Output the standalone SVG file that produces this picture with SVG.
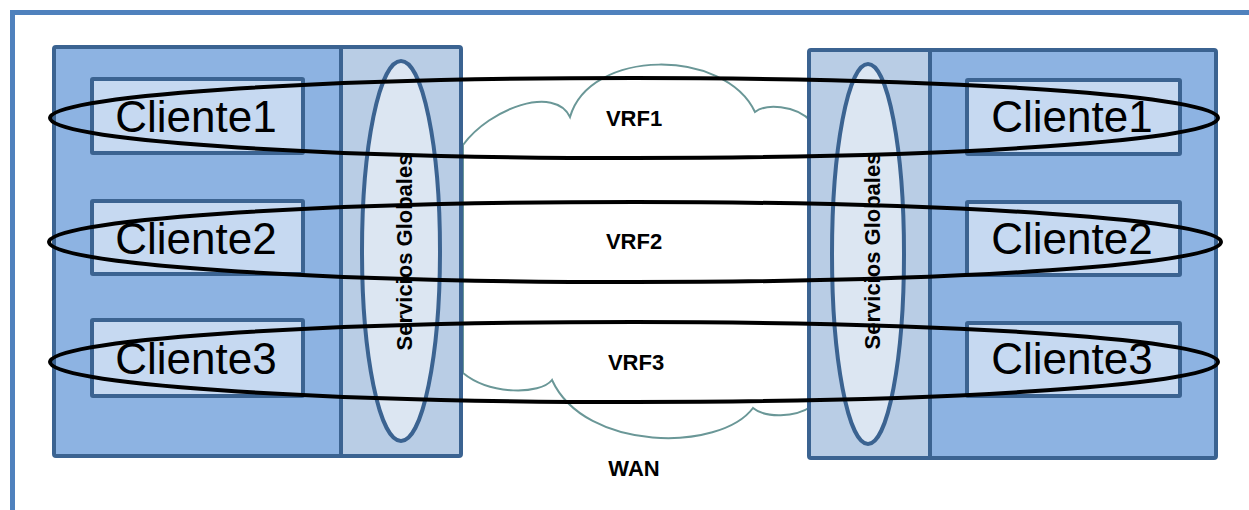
<svg xmlns="http://www.w3.org/2000/svg" width="1249" height="510" viewBox="0 0 1249 510">
<style>
.frame{fill:none;stroke:#4F81BD;stroke-width:5}
.site{stroke:#3B6391;stroke-width:4}
.dark{fill:#8DB3E2}
.light{fill:#B9CDE5}
.client{fill:#C6D9F1;stroke:#3B6391;stroke-width:4}
.svc{fill:#DCE6F2;stroke:#3B6391;stroke-width:4}
.cloud{fill:#FFFFFF;stroke:#6A9797;stroke-width:2}
.vrf{fill:none;stroke:#000000;stroke-width:4}
.ct{font-family:"Liberation Sans",Arial,sans-serif;font-size:44px;fill:#000;text-anchor:middle}
.lbl{font-family:"Liberation Sans",Arial,sans-serif;font-size:22px;font-weight:bold;fill:#000;text-anchor:middle}
</style>
<rect width="1249" height="510" fill="#FFFFFF"/>
<rect class="frame" x="12.5" y="12.5" width="1300" height="600"/>

<g id="wan">
<path class="cloud" d="M463,145 C490,108 555,85 570,117 C590,48 725,48 755,112 C765,104 795,104 812,122 L812,406 C795,418 765,418 753,408 C720,452 585,452 552,380 C540,395 490,395 463,373 Z"/>
<text class="lbl" x="634" y="476">WAN</text>
</g>

<g id="site-left">
<rect class="dark" x="54" y="47" width="287" height="409"/>
<rect class="light" x="341" y="47" width="120" height="409"/>
<rect class="site" fill="none" x="54" y="47" width="407" height="409" rx="2"/>
<line class="site" x1="341" y1="47" x2="341" y2="456"/>
</g>
<g id="site-right">
<rect class="light" x="809" y="50" width="121" height="408"/>
<rect class="dark" x="930" y="50" width="286" height="408"/>
<rect class="site" fill="none" x="809" y="50" width="407" height="408" rx="2"/>
<line class="site" x1="930" y1="50" x2="930" y2="458"/>
</g>

<g id="servicios-left">
<ellipse class="svc" cx="401" cy="251" rx="39" ry="190"/>
<text class="lbl" transform="translate(412,252) rotate(-90)">Servicios Globales</text>
</g>
<g id="servicios-right">
<ellipse class="svc" cx="868" cy="254" rx="36" ry="190"/>
<text class="lbl" transform="translate(880,251) rotate(-90)">Servicios Globales</text>
</g>

<g id="cliente1-left"><rect class="client" x="92" y="79" width="211" height="74" rx="1"/><text class="ct" x="196" y="132">Cliente1</text></g>
<g id="cliente2-left"><rect class="client" x="92" y="201" width="211" height="73" rx="1"/><text class="ct" x="196" y="254">Cliente2</text></g>
<g id="cliente3-left"><rect class="client" x="92" y="320" width="211" height="76" rx="1"/><text class="ct" x="196" y="374">Cliente3</text></g>
<g id="cliente1-right"><rect class="client" x="967" y="80" width="213" height="74" rx="1"/><text class="ct" x="1072" y="132">Cliente1</text></g>
<g id="cliente2-right"><rect class="client" x="967" y="202" width="213" height="73" rx="1"/><text class="ct" x="1072" y="254">Cliente2</text></g>
<g id="cliente3-right"><rect class="client" x="967" y="323" width="213" height="73" rx="1"/><text class="ct" x="1072" y="374">Cliente3</text></g>

<g id="connectors">
<ellipse class="vrf" cx="634" cy="118" rx="584" ry="40"/>
<ellipse class="vrf" cx="635" cy="242" rx="586" ry="40"/>
<ellipse class="vrf" cx="634" cy="362" rx="584" ry="40"/>
</g>
<g id="vrf-labels">
<text class="lbl" x="634" y="126">VRF1</text>
<text class="lbl" x="634" y="249">VRF2</text>
<text class="lbl" x="636" y="370">VRF3</text>
</g>
</svg>
